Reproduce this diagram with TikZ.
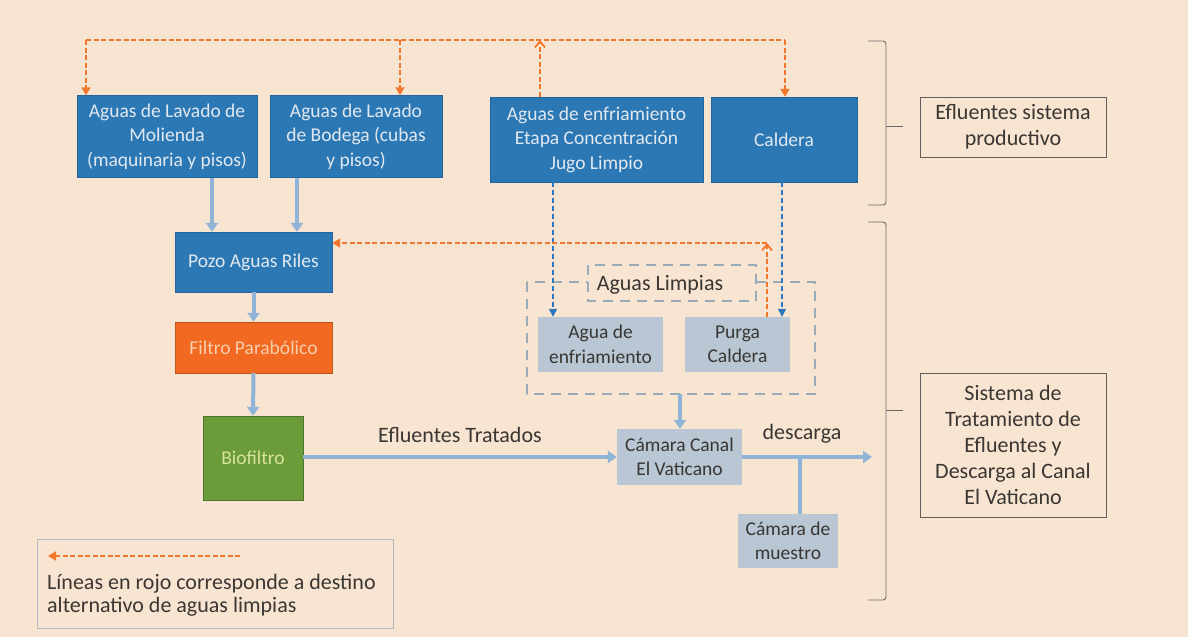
\documentclass[tikz,border=0pt]{standalone}
\usepackage{fontspec}
\setmainfont{Carlito}
\usetikzlibrary{arrows.meta}
\definecolor{bg}{HTML}{F8E5D1}
\definecolor{bluebox}{HTML}{2B78B4}
\definecolor{blueedge}{HTML}{22649C}
\definecolor{bluetext}{HTML}{E2E8EF}
\definecolor{orangebox}{HTML}{F26A22}
\definecolor{orangetext}{HTML}{F8CDAE}
\definecolor{greenbox}{HTML}{6C9B3A}
\definecolor{greentext}{HTML}{D8E39C}
\definecolor{graybox}{HTML}{B8C7D3}
\definecolor{lightarrow}{HTML}{8FB4D8}
\definecolor{orangeline}{HTML}{F2772E}
\definecolor{bluedash}{HTML}{2B78C0}
\definecolor{darktext}{HTML}{3A3633}
\definecolor{dashgray}{HTML}{9AAAB6}
\tikzset{
  boxfont/.style={font=\fontsize{19.5}{24.5}\selectfont},
  labelfont/.style={font=\fontsize{22}{26}\selectfont},
  bluenode/.style={boxfont, fill=bluebox, draw=blueedge, text=bluetext, align=center, inner sep=0pt},
  graynode/.style={boxfont, fill=graybox, draw=none, text=darktext, align=center, inner sep=0pt},
  flow/.style={draw=lightarrow, line width=4pt, -{Triangle[length=9pt,width=12pt]}},
  flowplain/.style={draw=lightarrow, line width=4pt},
  altline/.style={draw=orangeline, line width=1.8pt, dash pattern=on 5pt off 2.5pt},
  altarrow/.style={altline, -{Triangle[length=8pt,width=9pt]}},
  altup/.style={altline, -{Straight Barb[length=6pt,width=10pt]}},
  cleanline/.style={draw=bluedash, line width=1.3pt, dash pattern=on 5pt off 3pt, -{Triangle[length=8pt,width=8pt]}},
  sidebox/.style={draw=darktext!80, line width=1pt, text=darktext, align=center, labelfont, inner sep=0pt},
  bracepath/.style={draw=darktext!75, line width=0.9pt, rounded corners=3pt}
}
\begin{document}
\begin{tikzpicture}[x=1pt,y=-1pt]
\fill[bg] (0,0) rectangle (1188,637);
\useasboundingbox (0,0) rectangle (1188,637);

% production boxes
\node[bluenode, minimum width=180pt, minimum height=82pt] (mol) at (167,136.5) {Aguas de Lavado de\\Molienda\\(maquinaria y pisos)};
\node[bluenode, minimum width=172pt, minimum height=82pt] (bod) at (356,136.5) {Aguas de Lavado\\de Bodega (cubas\\y pisos)};
\node[bluenode, minimum width=213pt, minimum height=85pt] (enf) at (596.5,139.5) {Aguas de enfriamiento\\Etapa Concentración\\Jugo Limpio};
\node[bluenode, minimum width=146pt, minimum height=85pt] (cal) at (784,139.5) {Caldera};

% treatment
\node[bluenode, minimum width=157pt, minimum height=60pt] (pozo) at (253.5,262) {Pozo Aguas Riles};
\node[boxfont, fill=orangebox, draw=orangebox!80!black, text=orangetext, minimum width=157pt, minimum height=51pt, inner sep=0pt] (filtro) at (253.5,347.5) {Filtro Parabólico};
\node[boxfont, fill=greenbox, draw=greenbox!75!black, text=greentext, minimum width=100pt, minimum height=84pt, inner sep=0pt] (bio) at (253,458) {Biofiltro};

% clean water group
\draw[dashgray, line width=1.8pt, dash pattern=on 10pt off 7pt] (527,282) rectangle (815,394);
\draw[dashgray, line width=1.8pt, dash pattern=on 10pt off 7pt, fill=bg] (588,265) rectangle (756,301);
\node[text=darktext, labelfont, inner sep=0pt] (limpias) at (660,285) {Aguas Limpias};
\node[graynode, minimum width=125pt, minimum height=55pt] (aguaenf) at (600.5,344.5) {Agua de\\enfriamiento};
\node[graynode, minimum width=105pt, minimum height=55pt] (purga) at (737.5,344.5) {Purga\\Caldera};
\coordinate (grpS) at (680,394);

\node[graynode, minimum width=125pt, minimum height=56pt] (camara) at (679.5,457) {Cámara Canal\\El Vaticano};
\node[graynode, minimum width=100pt, minimum height=54pt] (muestro) at (788,541) {Cámara de\\muestro};

% light blue flows
\draw[flow] (mol.south -| 212,0) -- (pozo.north -| 212,0);
\draw[flow] (bod.south -| 297,0) -- (pozo.north -| 297,0);
\draw[flow] (pozo.south) -- (filtro.north);
\draw[flow] (filtro.south) -- (bio.north);
\draw[flow] (bio.east |- 0,457) -- node[above=9pt, text=darktext, labelfont] {Efluentes Tratados} (camara.west |- 0,457);
\draw[flow] (grpS) -- (camara.north -| grpS);
\coordinate (out) at (872,457);
\coordinate (tap) at (800,457);
\draw[flow] (camara.east |- 0,457) -- (out);
\node[text=darktext, labelfont] (descarga) at (802,434) {descarga};
\draw[flowplain] (tap) -- (muestro.north -| tap);

% blue dashed clean water
\draw[cleanline] (enf.south -| 553,0) -- (aguaenf.north -| 553,0);
\draw[cleanline] (cal.south -| 782,0) -- (purga.north -| 782,0);

% orange alternative lines (top)
\coordinate (tA) at (86,40);
\coordinate (tB) at (400,40);
\coordinate (tC) at (540,40);
\coordinate (tD) at (785,40);
\draw[altline] (tA) -- (tD);
\draw[altarrow] (tA) -- (mol.north -| tA);
\draw[altarrow] (tB) -- (bod.north -| tB);
\draw[altarrow] (tD) -- (cal.north -| tD);
\draw[altup] (enf.north -| tC) -- (tC);

% orange alternative line (purga -> pozo)
\coordinate (pC) at (767,243);
\draw[altup] (purga.north -| pC) -- (pC);
\draw[altarrow] (pC) -- (pozo.east |- pC);

% braces
\draw[bracepath] (868,41) -- (886,41) -- (886,205) -- (868,205);
\draw[darktext!75, line width=0.9pt] (886,126) -- (903,126);
\draw[bracepath] (868,222) -- (886,222) -- (886,600) -- (868,600);
\draw[darktext!75, line width=0.9pt] (886,410) -- (903,410);

\node[sidebox, minimum width=186pt, minimum height=60pt] (prod) at (1013,127) {Efluentes sistema\\productivo};
\node[sidebox, minimum width=186pt, minimum height=144pt] (trat) at (1013,445) {Sistema de\\Tratamiento de\\Efluentes y\\Descarga al Canal\\El Vaticano};

% legend
\node[draw=dashgray!80, line width=1pt, minimum width=356pt, minimum height=89pt, inner sep=0pt] (legend) at (215,583.5) {};
\coordinate (lgA) at (48,556);
\coordinate (lgB) at (240,556);
\draw[altarrow] (lgB) -- (lgA);
\node[anchor=north west, text=darktext, align=left, font=\fontsize{22}{23}\selectfont, inner sep=0pt] (legtext) at (47,574) {Líneas en rojo corresponde a destino\\alternativo de aguas limpias};
\end{tikzpicture}
\end{document}
